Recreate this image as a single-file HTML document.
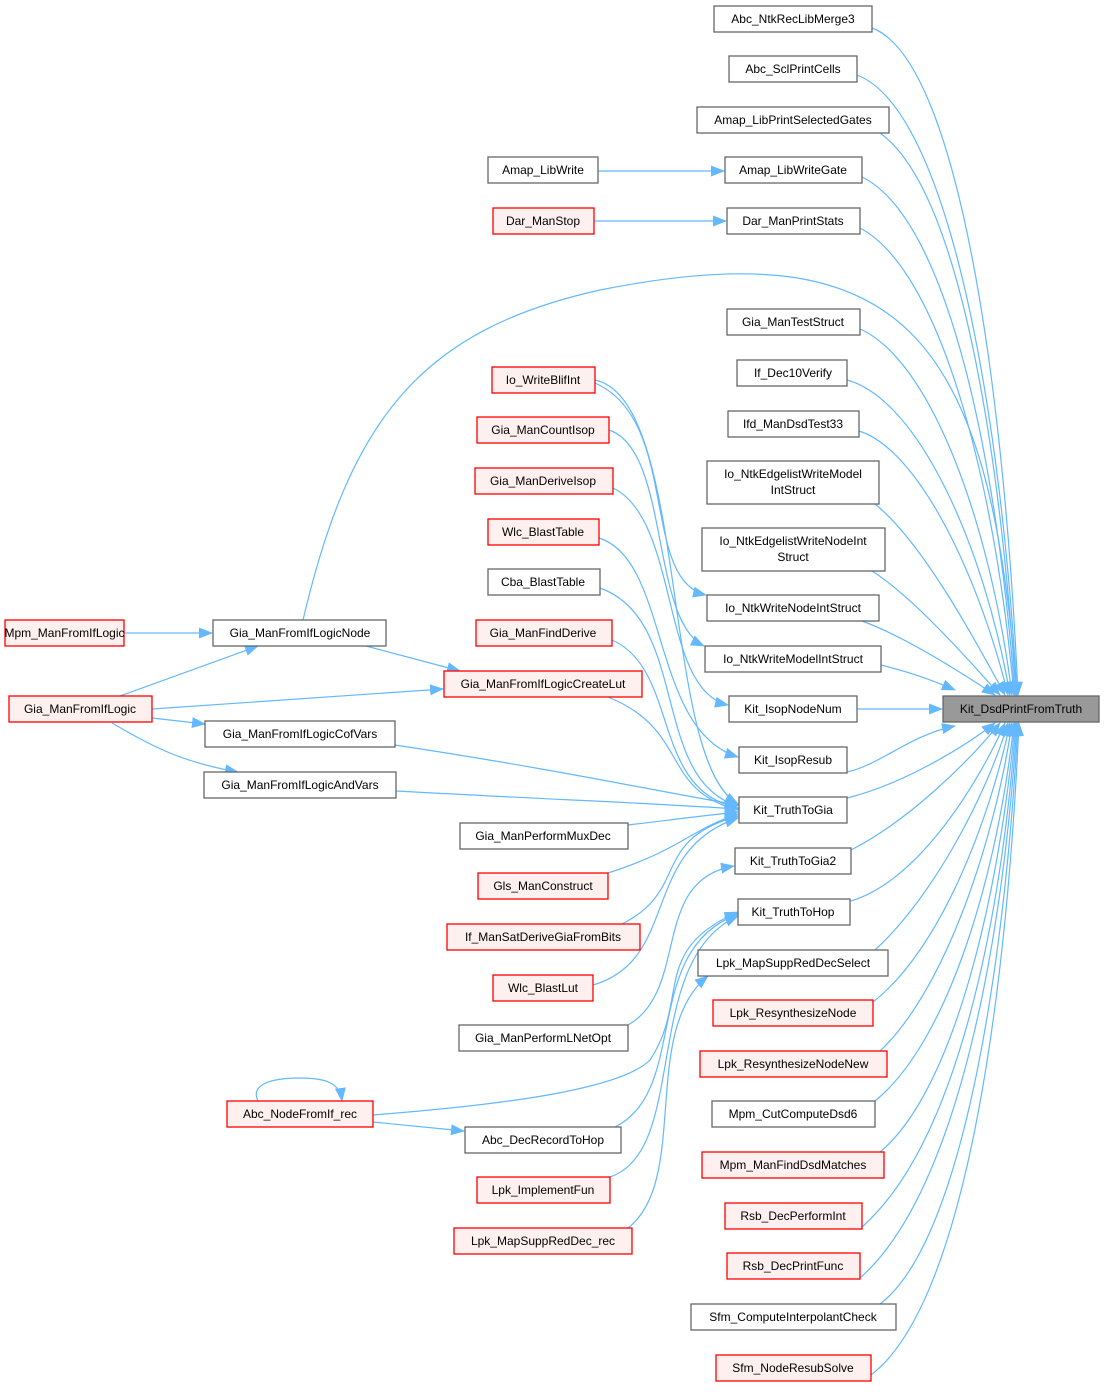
<!DOCTYPE html>
<html><head><meta charset="utf-8"><style>
html,body{margin:0;padding:0;background:#fff;}
svg text{font-family:"Liberation Sans",Arial,sans-serif;font-size:12px;fill:#000;text-anchor:middle;}
.n{fill:#fff;stroke:#666;stroke-width:1.3;}
.r{fill:#fff0f0;stroke:#ff0000;stroke-width:1.3;}
.g{fill:#999;stroke:#666;stroke-width:1.3;}
path.e{fill:none;stroke:#63b8ff;stroke-width:1.2;}
</style></head><body>
<svg width="1104" height="1387" viewBox="0 0 1104 1387" xmlns="http://www.w3.org/2000/svg">
<defs><marker id="a" markerUnits="userSpaceOnUse" markerWidth="14" markerHeight="11" refX="13" refY="5.5" orient="auto"><path d="M0,0 L14,5.5 L0,11 z" fill="#63b8ff"/></marker></defs>
<g marker-end="url(#a)">
<path class="e" d="M872,28 C960,60 1005,400 1018,695"/>
<path class="e" d="M857,75 C950,110 1002,420 1017,695"/>
<path class="e" d="M880,133 C960,190 1000,450 1016,695"/>
<path class="e" d="M862,177 C950,220 998,470 1015,695"/>
<path class="e" d="M860,228 C940,270 995,480 1014,695"/>
<path class="e" d="M860,329 C930,360 990,520 1012,695"/>
<path class="e" d="M847,380 C920,400 985,550 1010,695"/>
<path class="e" d="M859,431 C920,450 980,580 1008,695"/>
<path class="e" d="M875,504 C920,540 970,630 1005,695"/>
<path class="e" d="M872,571 C910,595 960,650 1000,695"/>
<path class="e" d="M862,621 C900,635 950,665 995,695"/>
<path class="e" d="M881,665 C900,670 920,675 955,690"/>
<path class="e" d="M857,709 L942,709"/>
<path class="e" d="M847,772 C880,765 910,735 955,726"/>
<path class="e" d="M847,798 C900,785 960,750 995,723"/>
<path class="e" d="M851,850 C910,820 970,760 1000,723"/>
<path class="e" d="M851,901 C920,880 980,780 1005,723"/>
<path class="e" d="M875,950 C930,900 985,800 1008,723"/>
<path class="e" d="M873,1002 C940,950 990,820 1010,723"/>
<path class="e" d="M880,1051 C945,990 995,840 1012,723"/>
<path class="e" d="M875,1101 C950,1040 998,870 1014,723"/>
<path class="e" d="M880,1152 C955,1090 1000,890 1015,723"/>
<path class="e" d="M862,1227 C960,1140 1002,910 1016,723"/>
<path class="e" d="M860,1278 C960,1190 1004,930 1017,723"/>
<path class="e" d="M880,1304 C965,1240 1006,950 1018,723"/>
<path class="e" d="M871,1375 C970,1300 1008,970 1019,723"/>
<path class="e" d="M303,620 C350,420 420,330 600,290 C900,230 990,330 1017,695"/>
<path class="e" d="M598,171 L724,171"/>
<path class="e" d="M594,221 L726,221"/>
<path class="e" d="M124,633 L212,633"/>
<path class="e" d="M120,696 L258,646"/>
<path class="e" d="M366,646 L460,671"/>
<path class="e" d="M152,709 L443,689"/>
<path class="e" d="M152,718 L205,724"/>
<path class="e" d="M112,723 C150,745 180,762 238,772"/>
<path class="e" d="M373,1115 C500,1105 620,1090 650,1060 C690,1000 650,950 738,912"/>
<path class="e" d="M373,1122 L464,1131"/>
<path class="e" d="M258,1101 C250,1085 270,1078 300,1078 C330,1078 340,1085 342,1101"/>
<path class="e" d="M595,380 C690,400 660,760 738,804"/>
<path class="e" d="M595,383 C680,420 640,580 706,595"/>
<path class="e" d="M609,430 C670,450 650,620 704,646"/>
<path class="e" d="M613,488 C680,520 660,690 728,705"/>
<path class="e" d="M599,538 C670,560 650,730 738,757"/>
<path class="e" d="M600,588 C690,620 650,780 738,806"/>
<path class="e" d="M612,640 C680,670 650,790 738,808"/>
<path class="e" d="M608,697 C690,730 660,790 738,810"/>
<path class="e" d="M395,745 C560,770 650,790 738,805"/>
<path class="e" d="M396,791 C560,800 650,803 738,809"/>
<path class="e" d="M628,825 C670,820 700,816 738,812"/>
<path class="e" d="M608,873 C680,850 690,830 738,814"/>
<path class="e" d="M622,924 C690,890 650,840 738,816"/>
<path class="e" d="M593,985 C680,960 640,850 738,818"/>
<path class="e" d="M628,1025 C690,990 650,880 734,866"/>
<path class="e" d="M615,1127 C690,1090 640,950 738,914"/>
<path class="e" d="M610,1177 C690,1150 640,960 738,916"/>
<path class="e" d="M628,1228 C690,1180 640,1030 708,976"/>
</g>
<g>
<rect class="n" x="714" y="6" width="158" height="26"/><text x="793" y="23">Abc_NtkRecLibMerge3</text>
<rect class="n" x="729" y="56" width="128" height="26"/><text x="793" y="73">Abc_SclPrintCells</text>
<rect class="n" x="697" y="107" width="192" height="26"/><text x="793" y="124">Amap_LibPrintSelectedGates</text>
<rect class="n" x="725" y="157" width="137" height="26"/><text x="793" y="174">Amap_LibWriteGate</text>
<rect class="n" x="727" y="208" width="133" height="26"/><text x="793" y="225">Dar_ManPrintStats</text>
<rect class="n" x="727" y="309" width="133" height="26"/><text x="793" y="326">Gia_ManTestStruct</text>
<rect class="n" x="737" y="360" width="110" height="26"/><text x="793" y="377">If_Dec10Verify</text>
<rect class="n" x="728" y="411" width="131" height="26"/><text x="793" y="428">Ifd_ManDsdTest33</text>
<rect class="n" x="707" y="461" width="172" height="43"/><text x="793" y="478">Io_NtkEdgelistWriteModel</text><text x="793" y="494">IntStruct</text>
<rect class="n" x="702" y="528" width="183" height="43"/><text x="793" y="545">Io_NtkEdgelistWriteNodeInt</text><text x="793" y="561">Struct</text>
<rect class="n" x="707" y="595" width="172" height="26"/><text x="793" y="612">Io_NtkWriteNodeIntStruct</text>
<rect class="n" x="705" y="646" width="176" height="26"/><text x="793" y="663">Io_NtkWriteModelIntStruct</text>
<rect class="n" x="729" y="696" width="128" height="26"/><text x="793" y="713">Kit_IsopNodeNum</text>
<rect class="n" x="739" y="747" width="108" height="26"/><text x="793" y="764">Kit_IsopResub</text>
<rect class="n" x="739" y="797" width="108" height="26"/><text x="793" y="814">Kit_TruthToGia</text>
<rect class="n" x="735" y="848" width="116" height="26"/><text x="793" y="865">Kit_TruthToGia2</text>
<rect class="n" x="738" y="899" width="112" height="26"/><text x="793" y="916">Kit_TruthToHop</text>
<rect class="n" x="698" y="950" width="190" height="26"/><text x="793" y="967">Lpk_MapSuppRedDecSelect</text>
<rect class="r" x="713" y="1000" width="160" height="26"/><text x="793" y="1017">Lpk_ResynthesizeNode</text>
<rect class="r" x="700" y="1051" width="187" height="26"/><text x="793" y="1068">Lpk_ResynthesizeNodeNew</text>
<rect class="n" x="712" y="1101" width="163" height="26"/><text x="793" y="1118">Mpm_CutComputeDsd6</text>
<rect class="r" x="702" y="1152" width="182" height="26"/><text x="793" y="1169">Mpm_ManFindDsdMatches</text>
<rect class="r" x="725" y="1203" width="137" height="26"/><text x="793" y="1220">Rsb_DecPerformInt</text>
<rect class="r" x="727" y="1253" width="133" height="26"/><text x="793" y="1270">Rsb_DecPrintFunc</text>
<rect class="n" x="691" y="1304" width="205" height="26"/><text x="793" y="1321">Sfm_ComputeInterpolantCheck</text>
<rect class="r" x="716" y="1355" width="155" height="26"/><text x="793" y="1372">Sfm_NodeResubSolve</text>
<rect class="g" x="943" y="696" width="156" height="26"/><text x="1021" y="713">Kit_DsdPrintFromTruth</text>

<rect class="n" x="488" y="157" width="110" height="26"/><text x="543" y="174">Amap_LibWrite</text>
<rect class="r" x="493" y="208" width="101" height="26"/><text x="543" y="225">Dar_ManStop</text>
<rect class="r" x="492" y="367" width="103" height="26"/><text x="543" y="384">Io_WriteBlifInt</text>
<rect class="r" x="477" y="417" width="132" height="26"/><text x="543" y="434">Gia_ManCountIsop</text>
<rect class="r" x="475" y="468" width="138" height="26"/><text x="543" y="485">Gia_ManDeriveIsop</text>
<rect class="r" x="488" y="519" width="111" height="26"/><text x="543" y="536">Wlc_BlastTable</text>
<rect class="n" x="488" y="569" width="112" height="26"/><text x="543" y="586">Cba_BlastTable</text>
<rect class="r" x="476" y="620" width="136" height="26"/><text x="543" y="637">Gia_ManFindDerive</text>
<rect class="r" x="444" y="671" width="198" height="26"/><text x="543" y="688">Gia_ManFromIfLogicCreateLut</text>
<rect class="n" x="460" y="823" width="168" height="26"/><text x="543" y="840">Gia_ManPerformMuxDec</text>
<rect class="r" x="478" y="873" width="130" height="26"/><text x="543" y="890">Gls_ManConstruct</text>
<rect class="r" x="447" y="924" width="193" height="26"/><text x="543" y="941">If_ManSatDeriveGiaFromBits</text>
<rect class="r" x="493" y="975" width="100" height="26"/><text x="543" y="992">Wlc_BlastLut</text>
<rect class="n" x="459" y="1025" width="169" height="26"/><text x="543" y="1042">Gia_ManPerformLNetOpt</text>
<rect class="n" x="465" y="1127" width="156" height="26"/><text x="543" y="1144">Abc_DecRecordToHop</text>
<rect class="r" x="477" y="1177" width="133" height="26"/><text x="543" y="1194">Lpk_ImplementFun</text>
<rect class="r" x="454" y="1228" width="178" height="26"/><text x="543" y="1245">Lpk_MapSuppRedDec_rec</text>

<rect class="n" x="213" y="620" width="173" height="26"/><text x="300" y="637">Gia_ManFromIfLogicNode</text>
<rect class="n" x="205" y="721" width="190" height="26"/><text x="300" y="738">Gia_ManFromIfLogicCofVars</text>
<rect class="n" x="204" y="772" width="192" height="26"/><text x="300" y="789">Gia_ManFromIfLogicAndVars</text>
<rect class="r" x="5" y="620" width="119" height="26"/><text x="64.5" y="637">Mpm_ManFromIfLogic</text>
<rect class="r" x="9" y="696" width="143" height="26"/><text x="80" y="713">Gia_ManFromIfLogic</text>
<rect class="r" x="227" y="1101" width="146" height="26"/><text x="300" y="1118">Abc_NodeFromIf_rec</text>
</g>
</svg>
</body></html>
